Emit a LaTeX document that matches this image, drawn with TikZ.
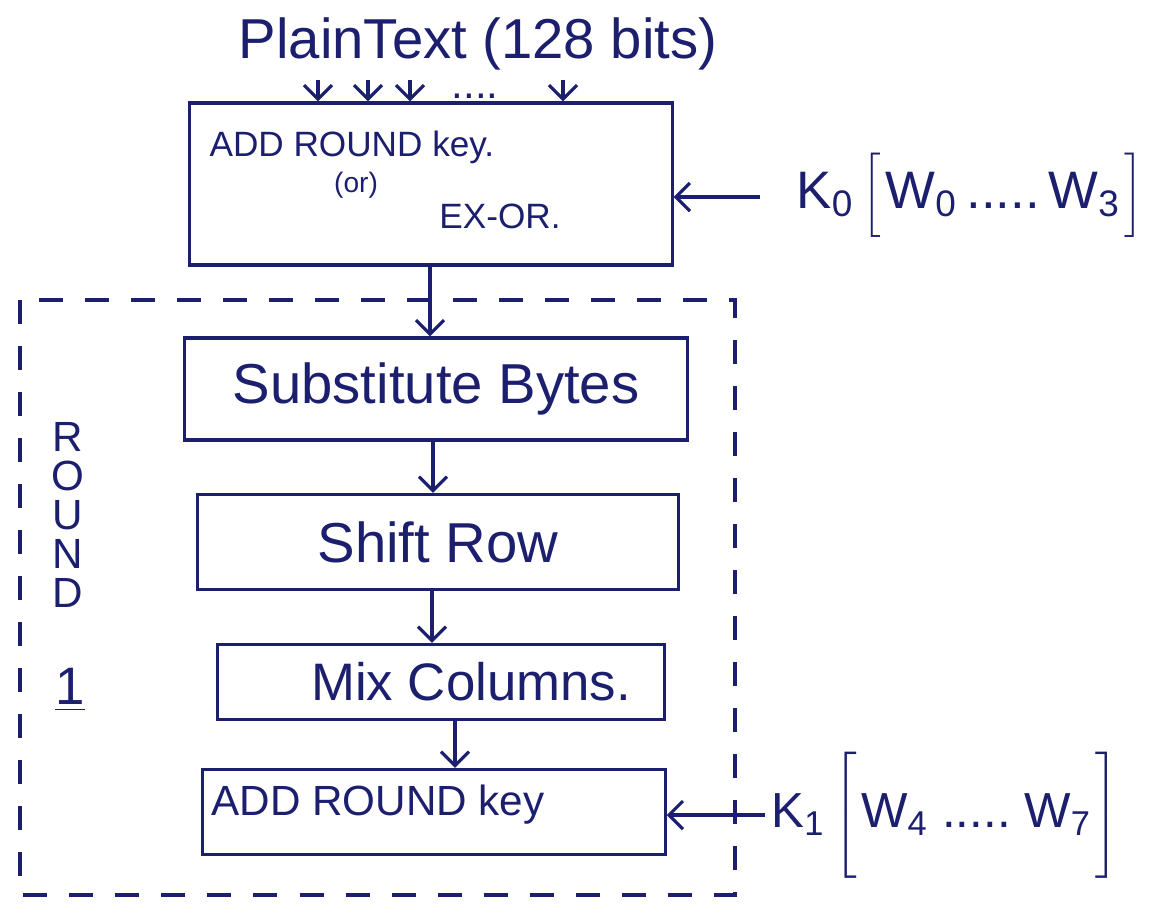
\documentclass[tikz,border=0pt]{standalone}
\usepackage{fontspec}
\setmainfont{Liberation Sans}
\usepackage{tikz}
\usetikzlibrary{arrows.meta,positioning}
\definecolor{ink}{RGB}{28,30,110}
\newcommand{\tallstrut}[1]{\vrule height #1 depth #1 width 0pt}

\begin{document}
\begin{tikzpicture}[x=0.01cm,y=-0.01cm,color=ink,line width=0.9pt,
step box/.style={draw,inner sep=0pt},
flow/.style={-{Straight Barb[length=1.4mm,width=2.8mm]},line width=0.9pt},
round frame/.style={dash pattern=on 2.4mm off 2.2mm,line width=0.9pt},
hand/.style={inner sep=0pt,font=\fontsize{#1}{#1}\selectfont}]
\useasboundingbox[fill=white] (0,0) rectangle (1168,921);
% title and plain text inputs
\node[hand=16] (ptext) at (478,44) {PlainText (128 bits)};
\node[step box,minimum width=4.82cm,minimum height=1.62cm] (add0) at (431,184) {};
\foreach \px [count=\i] in {318,368,410,563} {
  \coordinate (in\i) at (\px,80);
  \draw[flow] (in\i) -- (in\i |- add0.north);
}
\node[hand=12] (dots) at (475,96) {....};
\node[hand=10,anchor=west] (add0a) at (208,147) {ADD ROUND key.};
\node[hand=8] (add0b) at (356,185) {(or)};
\node[hand=10] (add0c) at (500,216) {EX-OR.};
% round key 0
\node[hand=15,anchor=west] (key0) at (795,197) {K\textsubscript{0}\,$\left[\tallstrut{3.2mm}\right.$W\textsubscript{0}\,.....\,W\textsubscript{3}$\left.\tallstrut{3.2mm}\right]$};
\coordinate (k0in) at (760,197);
\draw[flow] (k0in) -- (k0in -| add0.east);
% round 1
\draw[round frame] (20,300) rectangle (735,895);
\foreach \ch [count=\i] in {R,O,U,N,D}
  \node[hand=12] (rl\i) at (68,398+39*\i) {\ch};
\node[hand=15] (rnum) at (70,690) {\underline{1}};
\node[step box,minimum width=5.03cm,minimum height=1.02cm,font=\fontsize{16}{16}\selectfont] (sub) at (436,389) {Substitute Bytes};
\node[step box,minimum width=4.80cm,minimum height=0.95cm,font=\fontsize{16}{16}\selectfont] (shift) at (438,542) {Shift Row};
\node[step box,minimum width=4.47cm,minimum height=0.75cm,font=\fontsize{15}{15}\selectfont] (mix) at (441,682) {\hspace*{6mm}Mix Columns.};
\node[step box,minimum width=4.62cm,minimum height=0.85cm] (add1) at (434,812) {};
\node[hand=12,anchor=west] (add1a) at (210,805) {ADD ROUND key};
\coordinate (c1) at (430,0);
\coordinate (c2) at (433,0);
\coordinate (c3) at (432,0);
\coordinate (c4) at (455,0);
\draw[flow] (c1 |- add0.south) -- (c1 |- sub.north);
\draw[flow] (c2 |- sub.south) -- (c2 |- shift.north);
\draw[flow] (c3 |- shift.south) -- (c3 |- mix.north);
\draw[flow] (c4 |- mix.south) -- (c4 |- add1.north);
% round key 1
\node[hand=14,anchor=west] (key1) at (770,815) {K\textsubscript{1}\,$\left[\tallstrut{4.6mm}\right.$W\textsubscript{4}\;.....\;W\textsubscript{7}$\left.\tallstrut{4.6mm}\right]$};
\coordinate (k1in) at (765,815);
\draw[flow] (k1in) -- (k1in -| add1.east);
\end{tikzpicture}
\end{document}
